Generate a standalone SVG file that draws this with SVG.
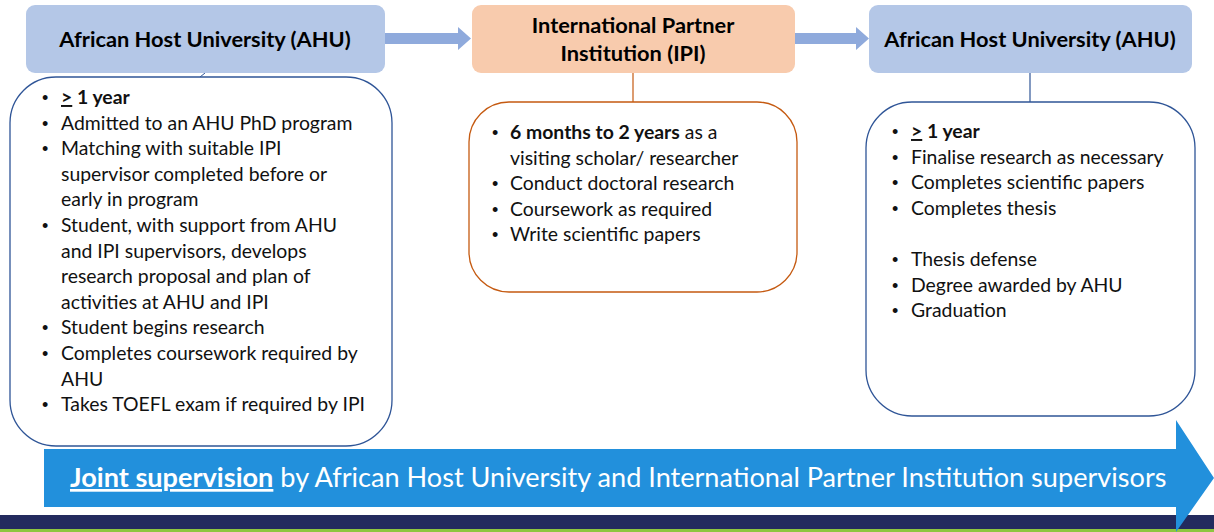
<svg xmlns="http://www.w3.org/2000/svg" width="1214" height="532" viewBox="0 0 1214 532">
<defs>
<style>
.hdr{font-family:Lato,"Liberation Sans",sans-serif;font-weight:bold;font-size:21.8px;fill:#000;text-anchor:middle}
.body{font-family:Lato,"Liberation Sans",sans-serif;font-size:19.4px;fill:#111}
.bl{font-family:"Liberation Sans",sans-serif;font-size:18px;fill:#111}
.b{font-weight:bold}
.u{text-decoration:underline}
.blue{fill:#B4C7E7}
.orange{fill:#F8CBAD}
.cbox{fill:#fff;stroke-width:1.3}
.cb{stroke:#2F5597}
.co{stroke:#C55A11}
.arrow{fill:#8FAADC}
.bottom{font-family:Lato,"Liberation Sans",sans-serif;font-size:27.1px;fill:#fff}
</style>
</defs>
<rect x="0" y="0" width="1214" height="532" fill="#fff"/>
<g id="band">
<rect x="0" y="515" width="1214" height="14" fill="#232B5E"/>
<rect x="0" y="529" width="1214" height="3" fill="#8DC63F"/>
</g>
<g id="connectors">
<path class="arrow" d="M385,33 H458 V27 L471,38.5 L458,50 V44 H385 Z"/>
<path class="arrow" d="M795,33 H856 V27 L869,38.5 L856,50 V44 H795 Z"/>
<line x1="205" y1="73" x2="200" y2="77" stroke="#2F5597" stroke-width="1"/>
<line x1="633" y1="73" x2="633" y2="102" stroke="#C55A11" stroke-width="1.2"/>
<line x1="1030" y1="73" x2="1030" y2="102" stroke="#2F5597" stroke-width="1.2"/>
</g>
<g id="ahu1">
<rect class="blue" x="26" y="5" width="359" height="68" rx="9"/>
<text class="hdr" x="205" y="47">African Host University (AHU)</text>
</g>
<g id="ipi">
<rect class="orange" x="472" y="5" width="323" height="68" rx="9"/>
<text class="hdr" x="633" y="33">International Partner</text>
<text class="hdr" x="633" y="61">Institution (IPI)</text>
</g>
<g id="ahu2">
<rect class="blue" x="869" y="5" width="323" height="68" rx="9"/>
<text class="hdr" x="1030" y="47">African Host University (AHU)</text>
</g>
<g id="box1">
<rect class="cbox cb" x="10" y="77" width="382" height="369" rx="46"/>
<g class="bl">
<text x="42" y="104">•</text><text x="42" y="129.6">•</text><text x="42" y="155.2">•</text><text x="42" y="232">•</text><text x="42" y="334.4">•</text><text x="42" y="360">•</text><text x="42" y="411.2">•</text>
</g>
<g class="body">
<text x="61" y="104" class="b"><tspan class="u">&gt;</tspan> 1 year</text>
<text x="61" y="129.6">Admitted to an AHU PhD program</text>
<text x="61" y="155.2">Matching with suitable IPI</text>
<text x="61" y="180.8">supervisor completed before or</text>
<text x="61" y="206.4">early in program</text>
<text x="61" y="232">Student, with support from AHU</text>
<text x="61" y="257.6">and IPI supervisors, develops</text>
<text x="61" y="283.2">research proposal and plan of</text>
<text x="61" y="308.8">activities at AHU and IPI</text>
<text x="61" y="334.4">Student begins research</text>
<text x="61" y="360">Completes coursework required by</text>
<text x="61" y="385.6">AHU</text>
<text x="61" y="411.2">Takes TOEFL exam if required by IPI</text>
</g>
</g>
<g id="box2">
<rect class="cbox co" x="469" y="102" width="328" height="190" rx="40"/>
<g class="bl">
<text x="492" y="139">•</text><text x="492" y="190">•</text><text x="492" y="215.5">•</text><text x="492" y="241">•</text>
</g>
<g class="body">
<text x="510" y="139"><tspan class="b">6 months to 2 years</tspan> as a</text>
<text x="510" y="164.5">visiting scholar/ researcher</text>
<text x="510" y="190">Conduct doctoral research</text>
<text x="510" y="215.5">Coursework as required</text>
<text x="510" y="241">Write scientific papers</text>
</g>
</g>
<g id="box3">
<rect class="cbox cb" x="866" y="102" width="329" height="314" rx="46"/>
<g class="bl">
<text x="892" y="138">•</text><text x="892" y="163.5">•</text><text x="892" y="189">•</text><text x="892" y="214.5">•</text><text x="892" y="266">•</text><text x="892" y="291.5">•</text><text x="892" y="317">•</text>
</g>
<g class="body">
<text x="911" y="138" class="b"><tspan class="u">&gt;</tspan> 1 year</text>
<text x="911" y="163.5">Finalise research as necessary</text>
<text x="911" y="189">Completes scientific papers</text>
<text x="911" y="214.5">Completes thesis</text>
<text x="911" y="266">Thesis defense</text>
<text x="911" y="291.5">Degree awarded by AHU</text>
<text x="911" y="317">Graduation</text>
</g>
</g>
<g id="joint">
<path d="M44,449 H1176 V420 L1214,478 L1176,532 V507 H44 Z" fill="#2290DC"/>
<text class="bottom" x="70" y="487"><tspan class="b u">Joint supervision</tspan> by African Host University and International Partner Institution supervisors</text>
</g>
</svg>
